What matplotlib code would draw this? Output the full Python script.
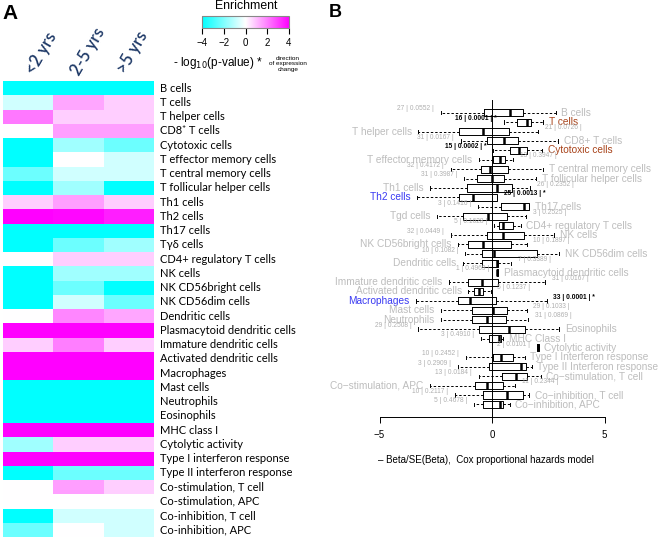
import matplotlib
matplotlib.use("Agg")
import matplotlib.pyplot as plt
import numpy as np
from matplotlib.colors import LinearSegmentedColormap

W, H = 660, 540

# ---- panel A: enrichment heatmap ----
cell_types_a = [
    "B cells", "T cells", "T helper cells", "CD8\u207a T cells", "Cytotoxic cells",
    "T effector memory cells", "T central memory cells", "T follicular helper cells",
    "Th1 cells", "Th2 cells", "Th17 cells", "T\u03b3\u03b4 cells", "CD4+ regulatory T cells",
    "NK cells", "NK CD56bright cells", "NK CD56dim cells", "Dendritic cells",
    "Plasmacytoid dendritic cells", "Immature dendritic cells", "Activated dendritic cells",
    "Macrophages", "Mast cells", "Neutrophils", "Eosinophils", "MHC class I",
    "Cytolytic activity", "Type I interferon response", "Type II interferon response",
    "Co-stimulation, T cell", "Co-stimulation, APC", "Co-inhibition, T cell",
    "Co-inhibition, APC",
]
age_groups = ["<2 yrs", "2-5 yrs", ">5 yrs"]
enrich_lt2 = [-4, -0.75, 2.1, 0, -4, -4, -2.3, -4, 0.75, 4, -4, -4, 0, -4, -4, -4, 0,
              4, 0.75, 4, 4, -4, -4, -4, 4, -1.5, 4, -4, 0, 0, -4, -2.3]
enrich_2to5 = [-4, 1.4, 0.75, 1.5, -1.5, 0, -0.75, -1.5, 1.5, 3.9, -4, -2.3, 0.75,
               -1.5, -2.3, -0.75, 1.9, 4, 2.0, 4, 4, -4, -4, -4, 4, 0.75, 4, -2.3,
               1.5, 0, -0.75, 0]
enrich_gt5 = [-4, 0.75, 0.75, 1.5, -2.3, -0.75, -0.75, -4, 0.75, 3.5, -4, -1.5, 0.75,
              -1.5, -4, -2.3, 1.4, 4, 0.75, 4, 4, -4, -4, -4, 4, 0.75, 4, -2.3,
              0.75, 0, -0.75, -0.75]

# ---- panel B: Cox model boxplots ----
cell_types_b = [
    "B cells", "T cells", "T helper cells", "CD8+ T cells", "Cytotoxic cells",
    "T effector memory cells", "T central memory cells", "T follicular helper cells",
    "Th1 cells", "Th2 cells", "Th17 cells", "Tgd cells", "CD4+ regulatory T cells",
    "NK cells", "NK CD56bright cells", "NK CD56dim cells", "Dendritic cells",
    "Plasmacytoid dendritic cells", "Immature dendritic cells", "Activated dendritic cells",
    "Macrophages", "Mast cells", "Neutrophils", "Eosinophils", "MHC Class I",
    "Cytolytic activity", "Type I Interferon response", "Type II Interferon response",
    "Co\u2212stimulation, T cell", "Co\u2212stimulation, APC", "Co\u2212inhibition, T cell",
    "Co\u2212inhibition, APC",
]
whis_lo = [-2.27, 0.53, -3.27, -1.38, 0.06, -0.58, -1.84, -1.24, -2.76, -3.32, -0.64,
           -2.43, 0.09, -1.84, -1.5, -1.18, -1.27, 0.2, -1.9, -1.05, -3.38, -2.28,
           -2.28, -3.27, -0.5, 2.0, -1.16, -1.5, -0.6, -2.76, -1.64, -0.8]
box_q1 = [-0.36, 1.13, -1.45, -0.24, 0.8, 0.03, -0.5, -0.65, -1.1, -1.45, 0.4, -1.3,
          0.33, -0.21, -1.05, -0.46, -0.46, 0.21, -1.05, -0.8, -1.5, -0.9, -0.9, -0.6,
          -0.12, 2.0, 0.06, -0.12, 0.43, -0.76, -0.41, -0.41]
box_med = [0.8, 1.54, -0.39, 0.55, 1.21, 0.36, -0.09, -0.01, 0.24, -0.86, 1.42, -0.16,
           0.5, 0.5, -0.39, 0.1, 0.21, 0.24, -0.46, -0.56, -0.98, 0.03, -0.24, 0.77,
           0.33, 2.04, 0.39, 1.27, 1.07, -0.24, 0.68, 0.36]
box_q3 = [1.36, 1.73, 0.77, 1.17, 1.54, 0.58, 0.73, 0.55, 0.87, 0.24, 1.66, 0.68, 0.95,
          1.42, 0.83, 1.99, 0.28, 0.27, 0.28, -0.39, 0.18, 0.65, 0.62, 1.47, 0.39, 2.08,
          0.92, 1.51, 1.57, 0.5, 1.39, 0.5]
whis_hi = [2.84, 2.28, 2.06, 2.95, 2.24, 0.95, 2.28, 1.96, 1.69, 0.24, 1.66, 1.51, 1.27,
           2.76, 1.54, 2.99, 0.84, 0.28, 2.36, -0.06, 2.43, 1.54, 1.62, 2.99, 0.5, 2.08,
           1.47, 1.76, 2.16, 1.02, 1.66, 0.8]
n_genes = [27, 16, 21, 31, 15, 13, 32, 31, 26, 25, 3, 3, 5, 32, 10, 10, 7, 1, 31, 5, 33,
           29, 31, 29, 3, 2, 10, 3, 13, 11, 10, 5]
p_values = [0.0552, 0.0001, 0.0726, 0.0167, 0.0002, 0.3947, 0.4172, 0.3987, 0.2352,
            0.0013, 0.1416, 0.2525, 0.1628, 0.0449, 0.1897, 0.1082, 0.3389, 0.4969,
            0.0167, 0.1237, 0.0001, 0.1033, 0.0869, 0.2508, 0.4910, 0.0101, 0.2452,
            0.2909, 0.0184, 0.2344, 0.2117, 0.4678]
significant = [False, True, False, False, True, False, False, False, False, True,
               False, False, False, False, False, False, False, False, False, False,
               True, False, False, False, False, False, False, False, False, False,
               False, False]
label_side = list("RRLRRLRRLLRLRRLRLRLLLLLRRRRRRLRR")
label_color = ["gray"] * 32
label_color[1] = label_color[4] = "brown"
label_color[9] = label_color[20] = "blue"

COLORS = {"gray": "#bdbdbd", "brown": "#a8431a", "blue": "#3a3af2"}


def fx(px):
    return px / W


def fy(py):
    return 1 - py / H


fig = plt.figure(figsize=(W / 100, H / 100), dpi=100)
font_a = ["Lato", "DejaVu Sans"]
font_b = ["Liberation Sans", "DejaVu Sans"]

# heatmap
ax_a = fig.add_axes([fx(3), fy(537), fx(151), (537 - 81) / H])
cmap = LinearSegmentedColormap.from_list("enrich", ["#00ffff", "#ffffff", "#ff00ff"])
grid = np.column_stack([enrich_lt2, enrich_2to5, enrich_gt5])
mesh = ax_a.pcolormesh(grid, cmap=cmap, vmin=-4, vmax=4)
ax_a.set_ylim(len(cell_types_a), 0)
ax_a.set_xlim(0, len(age_groups))
ax_a.set_xticks([])
ax_a.set_yticks([])
for s in ax_a.spines.values():
    s.set_visible(False)
for i, name in enumerate(cell_types_a):
    ax_a.text(3.12, i + 0.5, name, va="center", ha="left", fontsize=8, family=font_a)

header_xy = [(41, 53), (88, 51), (132, 52)]
for (hx, hy), g in zip(header_xy, age_groups):
    fig.text(fx(hx), fy(hy), g, rotation=60, ha="center", va="center", fontsize=12,
             color="#1d3866", family=font_a, fontweight="semibold")

# colorbar
cax = fig.add_axes([fx(202), fy(28), fx(87), 12 / H])
cb = fig.colorbar(mesh, cax=cax, orientation="horizontal", ticks=[-4, -2, 0, 2, 4])
cb.outline.set_edgecolor("#888888")
cb.outline.set_linewidth(0.8)
cax.tick_params(length=4, width=0.8, labelsize=7, pad=3.5)
for t in cax.get_xticklabels():
    t.set_family(font_b)
fig.text(fx(246), fy(6), "Enrichment", ha="center", va="center", fontsize=8.8,
         family=font_b)
fig.text(fx(173), fy(63), r"- log$_{10}$(p-value) *", ha="left", va="center",
         fontsize=8.5, family=font_b)
fig.text(fx(288), fy(64), "direction\nof expression\nchange", ha="center", va="center",
         fontsize=4.6, family=font_b, linespacing=1.2)

fig.text(fx(2), fy(4), "A", ha="left", va="top", fontsize=15, fontweight="bold",
         family=font_b)
fig.text(fx(329), fy(4), "B", ha="left", va="top", fontsize=13, fontweight="bold",
         family=font_b)

# boxplots
row0, step = 112.7, 9.41
ax_b = fig.add_axes([fx(330), fy(417), fx(330), (417 - 95) / H])
ax_b.set_xlim((330 - 492) / 22.5, (660 - 492) / 22.5)
ax_b.set_ylim((417 - row0) / step, (95 - row0) / step)
ypos = np.arange(len(cell_types_b))
stats = [dict(med=m, q1=a, q3=b, whislo=lo, whishi=hi, fliers=[])
         for lo, a, m, b, hi in zip(whis_lo, box_q1, box_med, box_q3, whis_hi)]
ax_b.bxp(stats, positions=ypos, widths=0.75, orientation="horizontal",
         showfliers=False, manage_ticks=False, capwidths=0.35,
         boxprops=dict(color="black", linewidth=0.7),
         whiskerprops=dict(color="black", linewidth=0.7, linestyle=(0, (2.5, 2))),
         capprops=dict(color="black", linewidth=0.7),
         medianprops=dict(color="black", linewidth=1.8))
ax_b.axvline(0, 0, (417 - 100) / (417 - 95), color="black", linewidth=0.7)

gap = 0.3
for i, name in enumerate(cell_types_b):
    stat_txt = f"{n_genes[i]} | {p_values[i]:.4f} |" + (" *" if significant[i] else "")
    stat_kw = dict(fontsize=4.8, family=font_b, va="center",
                   color="black" if significant[i] else "#b0b0b0",
                   fontweight="bold" if significant[i] else "normal")
    lab_kw = dict(fontsize=7.3, family=font_b, va="center", color=COLORS[label_color[i]])
    if label_side[i] == "L":
        ax_b.text(whis_lo[i] - gap, i, name, ha="right", **lab_kw)
        ax_b.text(whis_hi[i] + gap, i - 0.4, stat_txt, ha="left", **stat_kw)
    else:
        ax_b.text(whis_hi[i] + gap * 0.8, i, name, ha="left", **lab_kw)
        ax_b.text(whis_lo[i] - gap, i - 0.4, stat_txt, ha="right", **stat_kw)

for side in ["left", "right", "top"]:
    ax_b.spines[side].set_visible(False)
ax_b.spines["bottom"].set_bounds(-5, 5)
ax_b.spines["bottom"].set_linewidth(0.7)
ax_b.set_yticks([])
ax_b.set_xticks([-5, 0, 5])
ax_b.tick_params(axis="x", length=4, width=0.7, labelsize=7, pad=5)
for t in ax_b.get_xticklabels():
    t.set_family(font_b)
fig.text(fx(486), fy(460), "\u2013 Beta/SE(Beta),  Cox proportional hazards model",
         ha="center", va="center", fontsize=7, family=font_b)

fig.savefig("out.png", dpi=100)
